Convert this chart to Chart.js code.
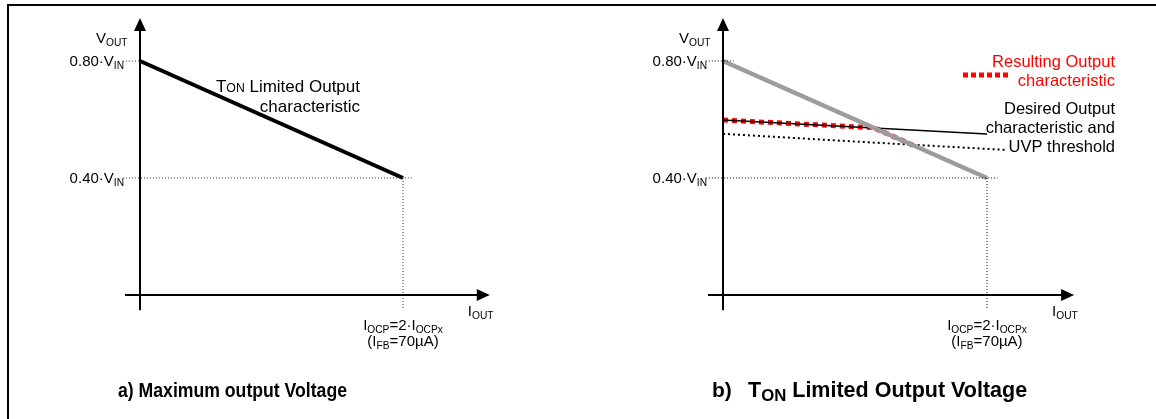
<!DOCTYPE html>
<html>
<head>
<meta charset="utf-8">
<script src="https://cdn.jsdelivr.net/npm/chart.js@4/dist/chart.umd.min.js"></script>
<style>
    html, body { margin: 0; padding: 0; background: #fff; overflow: hidden; }
    #wrap { position: relative; width: 1156px; height: 419px; overflow: hidden; }
    #frame { position: absolute; left: 7px; top: 4px; width: 1149px; height: 415px;
             border-top: 2px solid #000; border-left: 2px solid #000; box-sizing: border-box; }
    .panel { position: absolute; top: 0; width: 578px; height: 419px; }
</style>
</head>
<body>
<div id="wrap">
    <div id="frame"></div>
    <div class="panel" style="left:0"><canvas id="chartA"></canvas></div>
    <div class="panel" style="left:578px"><canvas id="chartB"></canvas></div>
</div>
<script>
// I_OUT normalised: 0 = no load, 1 = I_OCP ; V_OUT normalised to V_IN
const tonI = [0, 1];
const tonV = [0.80, 0.40];
const resultingI = [0, 0.57, 0.73];
const resultingV = [0.598, 0.572, 0.508];
const desiredI = [0, 1.0];
const desiredV = [0.598, 0.550];
const uvpI = [0, 0.55, 1.07];
const uvpV = [0.551, 0.522, 0.496];
const levelValues = [0.80, 0.40];
const levelLabels = ['0.80', '0.40'];
const ocpValue = 1;

const FONT = '"Liberation Sans", Arial, sans-serif';

function pts(xs, ys) {
    return xs.map((x, i) => ({ x: x, y: ys[i] }));
}

// texte avec indices : [texte, taille relative, décalage vertical relatif]
function rich(ctx, parts, x, y, align, size, color, weight, stretch) {
    const w8 = weight || 'normal';
    const sx = stretch || 1;
    const fontOf = p => w8 + ' ' + size * (p[1] || 1) + 'px ' + FONT;
    const widths = parts.map(p => { ctx.font = fontOf(p); return ctx.measureText(p[0]).width; });
    const total = widths.reduce((a, b) => a + b, 0) * sx;
    const left = align === 'right' ? x - total : align === 'center' ? x - total / 2 : x;
    ctx.save();
    ctx.translate(left, 0);
    ctx.scale(sx, 1);
    ctx.fillStyle = color;
    ctx.textAlign = 'left';
    ctx.textBaseline = 'alphabetic';
    let cx = 0;
    parts.forEach((p, i) => {
        ctx.font = fontOf(p);
        ctx.fillText(p[0], cx, y + size * (p[2] || 0));
        cx += widths[i];
    });
    ctx.restore();
}
const SUB = 0.68, LOW = 0.22;

// axes avec flèches + étiquettes communes
const axesPlugin = {
    id: 'axes',
    afterDatasetsDraw(chart, args, opts) {
        const ctx = chart.ctx;
        const xs = chart.scales.x, ys = chart.scales.y;
        const x0 = xs.getPixelForValue(0), y0 = ys.getPixelForValue(0);
        const xEnd = xs.getPixelForValue(1.33), yEnd = ys.getPixelForValue(0.947);
        ctx.save();
        ctx.strokeStyle = '#000';
        ctx.fillStyle = '#000';
        ctx.lineWidth = 2;
        ctx.beginPath();
        ctx.moveTo(xs.getPixelForValue(-0.057), y0);
        ctx.lineTo(xEnd - 10, y0);
        ctx.moveTo(x0, ys.getPixelForValue(-0.052));
        ctx.lineTo(x0, yEnd + 10);
        ctx.stroke();
        ctx.beginPath();
        ctx.moveTo(xEnd, y0);
        ctx.lineTo(xEnd - 13, y0 - 6);
        ctx.lineTo(xEnd - 13, y0 + 6);
        ctx.closePath();
        ctx.moveTo(x0, yEnd);
        ctx.lineTo(x0 - 6, yEnd + 13);
        ctx.lineTo(x0 + 6, yEnd + 13);
        ctx.closePath();
        ctx.fill();

        rich(ctx, [['V'], ['OUT', SUB, LOW]], x0 - 44, yEnd + 25, 'left', 15, '#000');
        rich(ctx, [['I'], ['OUT', SUB, LOW]], xEnd - 22, y0 + 21, 'left', 15, '#000');
        levelValues.forEach((v, i) => {
            rich(ctx, [[levelLabels[i] + '\u00b7V'], ['IN', SUB, LOW]],
                x0 - 16, ys.getPixelForValue(v) + 5, 'right', 15, '#000');
        });
        const xo = xs.getPixelForValue(ocpValue);
        rich(ctx, [['I'], ['OCP', SUB, LOW], ['=2\u00b7I'], ['OCPx', SUB, LOW]], xo, y0 + 35, 'center', 15, '#000');
        rich(ctx, [['(I'], ['FB', SUB, LOW], ['=70\u00b5A)']], xo, y0 + 51, 'center', 15, '#000');

        (opts.texts || []).forEach(t => rich(ctx, t.parts, t.x, t.y, t.align, t.size, t.color || '#000', t.weight, t.stretch));
        if (opts.swatch) {
            ctx.strokeStyle = '#ff0000';
            ctx.lineWidth = 5;
            ctx.setLineDash([5, 3]);
            ctx.beginPath();
            ctx.moveTo(opts.swatch[0], opts.swatch[2]);
            ctx.lineTo(opts.swatch[1], opts.swatch[2]);
            ctx.stroke();
        }
        ctx.restore();
    }
};

function dotted(data, color) {
    return { data: data, borderColor: color, borderWidth: 1, borderDash: [1, 2], showLine: true, pointRadius: 0 };
}

function guideSets(color, topEnd) {
    return [
        dotted([{ x: -0.065, y: levelValues[1] }, { x: 1.04, y: levelValues[1] }], color),
        dotted([{ x: -0.065, y: levelValues[0] }, { x: topEnd, y: levelValues[0] }], color),
        dotted([{ x: ocpValue, y: levelValues[1] }, { x: ocpValue, y: -0.045 }], color)
    ];
}

function baseOptions(padLeft, padRight, texts, swatch) {
    return {
        responsive: true,
        maintainAspectRatio: false,
        animation: false,
        events: [],
        layout: { padding: { left: padLeft, right: padRight, top: 18, bottom: 106.5 } },
        scales: {
            x: { type: 'linear', min: -0.1, max: 1.33, display: false },
            y: { type: 'linear', min: -0.06, max: 0.947, display: false }
        },
        plugins: {
            legend: { display: false },
            tooltip: { enabled: false },
            axes: { texts: texts, swatch: swatch }
        }
    };
}

// a) Maximum output Voltage
const textsA = [
    { parts: [['T'], ['ON', 0.72, 0], [' Limited Output']], x: 360, y: 92, align: 'right', size: 17 },
    { parts: [['characteristic']], x: 360, y: 112, align: 'right', size: 17 },
    { parts: [['a) Maximum output Voltage']], x: 118, y: 397, align: 'left', size: 21, weight: 'bold', stretch: 0.84 }
];
new Chart(document.getElementById('chartA'), {
    type: 'scatter',
    data: {
        datasets: guideSets('#333', 0).concat([
            { data: pts(tonI, tonV), borderColor: '#000', borderWidth: 4, showLine: true, pointRadius: 0 }
        ])
    },
    options: baseOptions(113.7, 88.2, textsA),
    plugins: [axesPlugin]
});

// b) T_ON Limited Output Voltage
const textsB = [
    { parts: [['Resulting Output']], x: 537, y: 67, align: 'right', size: 16.5, color: '#ff0000' },
    { parts: [['characteristic']], x: 537, y: 86, align: 'right', size: 16.5, color: '#ff0000' },
    { parts: [['Desired Output']], x: 537, y: 114, align: 'right', size: 16.5 },
    { parts: [['characteristic and']], x: 537, y: 133, align: 'right', size: 16.5 },
    { parts: [['UVP threshold']], x: 537, y: 152, align: 'right', size: 16.5 },
    { parts: [['b)']], x: 134, y: 397, align: 'left', size: 21, weight: 'bold' },
    { parts: [['T'], ['ON', 0.78, 0.2], [' Limited Output Voltage']], x: 170, y: 397, align: 'left', size: 21.5, weight: 'bold' }
];
new Chart(document.getElementById('chartB'), {
    type: 'scatter',
    data: {
        datasets: guideSets('#000', 0.04).concat([
            { data: pts(tonI, tonV), borderColor: '#9c9c9c', borderWidth: 4.5, showLine: true, pointRadius: 0 },
            { data: pts(uvpI, uvpV), borderColor: '#000', borderWidth: 2, borderDash: [2, 3], showLine: true, pointRadius: 0, clip: false },
            { data: pts(desiredI, desiredV), borderColor: '#000', borderWidth: 1.5, showLine: true, pointRadius: 0 },
            { data: pts(resultingI, resultingV), borderColor: '#ff0000', borderWidth: 5, borderDash: [5, 4], showLine: true, pointRadius: 0 }
        ])
    },
    options: baseOptions(118.6, 81.9, textsB, [385, 431, 75]),
    plugins: [axesPlugin]
});
</script>
</body>
</html>
